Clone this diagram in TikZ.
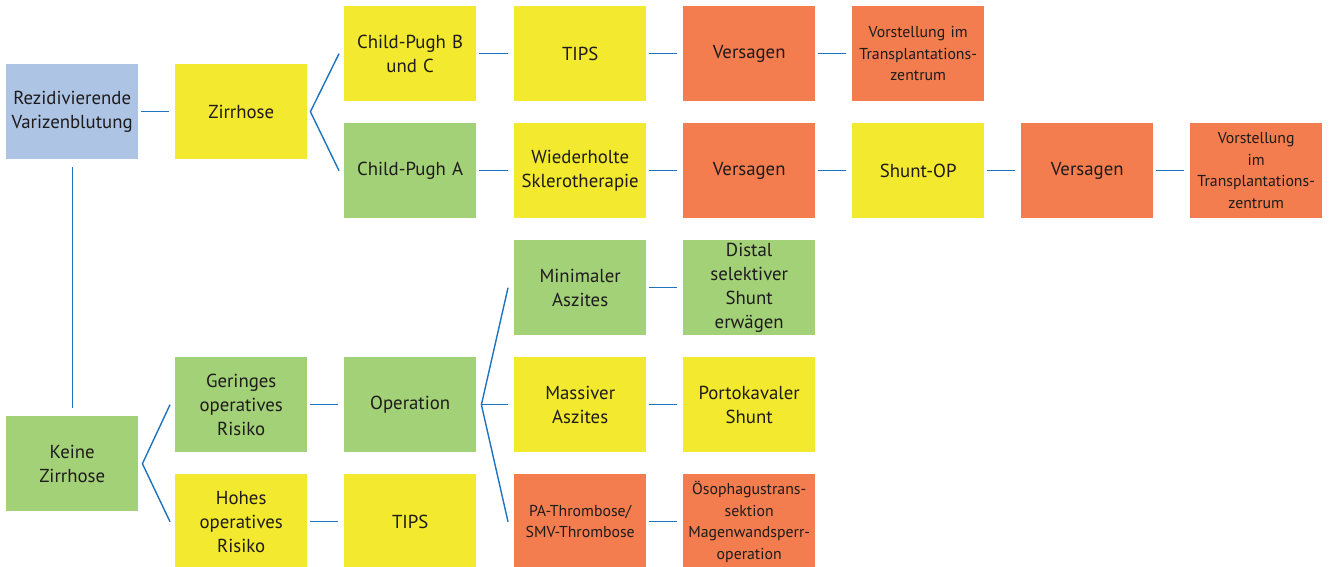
\documentclass[tikz,border=0pt]{standalone}
\usepackage{fontspec}
\setmainfont{PT Sans}
\begin{document}
\definecolor{cblue}{HTML}{AEC4E4}
\definecolor{cyellow}{HTML}{F3E92F}
\definecolor{cgreen}{HTML}{A3D177}
\definecolor{corange}{HTML}{F37D4E}
\definecolor{cline}{HTML}{1E73BE}
\definecolor{ctext}{HTML}{1E1B1C}
\begin{tikzpicture}[x=1pt,y=-1pt,
  box/.style={anchor=north west, minimum width=132pt, minimum height=95pt,
    inner sep=0pt, align=center, text width=130pt, text=ctext,
    font=\fontsize{18.8}{24}\selectfont},
  small/.style={font=\fontsize{15.8}{21.5}\selectfont},
  link/.style={draw=cline, line width=1.4pt},
  bl/.style={box, fill=cblue},
  ye/.style={box, fill=cyellow},
  gr/.style={box, fill=cgreen},
  or/.style={box, fill=corange}]
\useasboundingbox (0,0) rectangle (1329,566);

% upper branch: cirrhosis
\node[bl] (rez)  at (6,64)    {Rezidivierende\\Varizenblutung};
\node[ye] (zir)  at (175,64)  {Zirrhose};
\node[ye] (cpb)  at (344,6)   {Child-Pugh B\\und C};
\node[gr] (cpa)  at (344,123) {Child-Pugh A};
\node[ye] (tips1) at (514,6)  {TIPS};
\node[ye] (skl)  at (514,123) {Wiederholte\\Sklerotherapie};
\node[or] (ver1) at (683,6)   {Versagen};
\node[or] (ver2) at (683,123) {Versagen};
\node[or, small] (tx1) at (852,6) {Vorstellung im\\Transplantations-\\zentrum};
\node[ye] (sop)  at (852,123) {Shunt-OP};
\node[or] (ver3) at (1021,123) {Versagen};
\node[or, small] (tx2) at (1190,123) {Vorstellung\\im\\Transplantations-\\zentrum};

% lower branch: no cirrhosis
\node[gr] (kz)   at (6,416)   {Keine\\Zirrhose};
\node[gr] (ger)  at (175,357) {Geringes\\operatives\\Risiko};
\node[ye] (hoh)  at (175,474) {Hohes\\operatives\\Risiko};
\node[gr] (op)   at (344,357) {Operation};
\node[ye] (tips2) at (344,474) {TIPS};
\node[gr] (min)  at (514,240) {Minimaler\\Aszites};
\node[ye] (mas)  at (514,357) {Massiver\\Aszites};
\node[or, small] (thr) at (514,474) {PA-Thrombose/\\SMV-Thrombose};
\node[gr] (dss)  at (683,240) {Distal\\selektiver\\Shunt\\erwägen};
\node[ye] (pks)  at (683,357) {Portokavaler\\Shunt};
\node[or, small] (oes) at (683,474) {Ösophagustrans-\\sektion\\Magenwandsperr-\\operation};

% straight connectors
\foreach \a/\b in {rez/zir, cpb/tips1, cpa/skl, tips1/ver1, skl/ver2, ver1/tx1,
                   ver2/sop, sop/ver3, ver3/tx2, ger/op, hoh/tips2, min/dss,
                   mas/pks, thr/oes}
  \draw[link] ([xshift=3pt]\a.east) -- ([xshift=-6pt]\b.west);
\draw[link] ([yshift=-8pt]rez.south) -- ([yshift=8pt]kz.north);

% forks
\coordinate (fz) at ([xshift=3pt]zir.east);
\draw[link] ([xshift=-5pt]cpb.west) -- (fz) -- ([xshift=-5pt]cpa.west);
\coordinate (fk) at ([xshift=4pt]kz.east);
\draw[link] ([xshift=-5pt]ger.west) -- (fk) -- ([xshift=-5pt]hoh.west);
\coordinate (fo) at ([xshift=5pt]op.east);
\draw[link] ([xshift=-6pt]min.west) -- (fo) -- ([xshift=-6pt]thr.west);
\draw[link] (fo) -- ([xshift=-6pt]mas.west);
\end{tikzpicture}
\end{document}
